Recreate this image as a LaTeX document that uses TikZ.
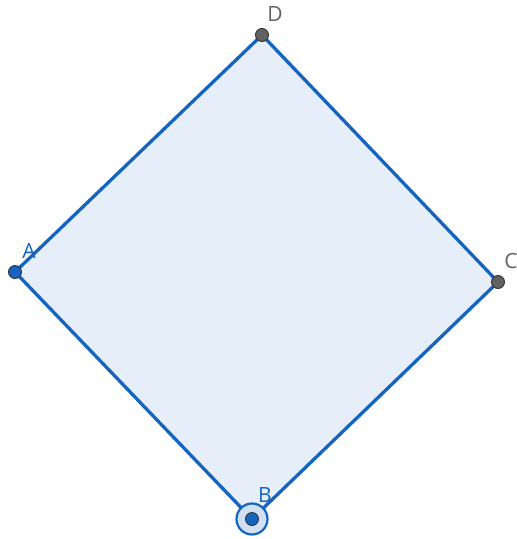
\documentclass[tikz,border=0pt]{standalone}
\usepackage{fontspec}
\setmainfont{Open Sans}
\usepackage{tikz}

\definecolor{ggblue}{HTML}{1565C0}
\definecolor{ggfill}{HTML}{E6EEF9}
\definecolor{gggray}{HTML}{616161}

\begin{document}
\begin{tikzpicture}[x=1pt,y=-1pt,line width=3.3pt,
    vertex/.style={circle,draw=black!80,line width=0.9pt,inner sep=0pt,minimum size=13pt},
    lbl/.style={font=\fontsize{21}{22}\selectfont,inner sep=0pt}]
  \useasboundingbox (0,0) rectangle (517,539);
  \coordinate (A) at (15,272);
  \coordinate (B) at (252,519);
  \coordinate (C) at (498,282);
  \coordinate (D) at (262,35);
  \draw[ggblue,fill=ggfill,line join=round] (A) -- (B) -- (C) -- (D) -- cycle;
  % highlight ring on B
  \draw[ggblue,fill=ggblue!20,line width=2.2pt] (B) circle (15.5);
  \node[vertex,fill=gggray] (pD) at (D) {};
  \node[vertex,fill=gggray] (pC) at (C) {};
  \node[vertex,fill=ggblue] (pA) at (A) {};
  \node[vertex,fill=ggblue] (pB) at (B) {};
  \node[lbl,text=gggray] (lD) at (275,14) {D};
  \node[lbl,text=gggray] (lC) at (511,261) {C};
  \node[lbl,text=ggblue] (lA) at (29,251) {A};
  \node[lbl,text=ggblue] (lB) at (265,495) {B};
\end{tikzpicture}
\end{document}
